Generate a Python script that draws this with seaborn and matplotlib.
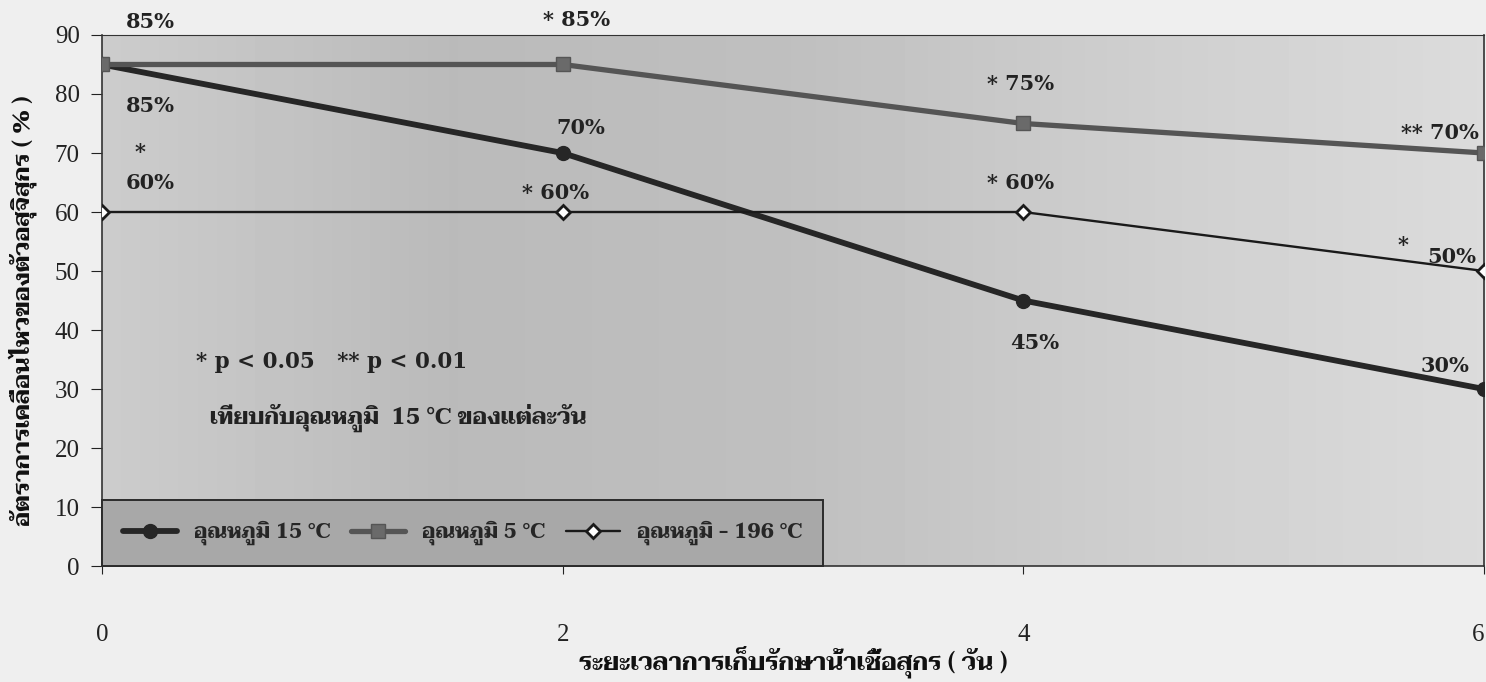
import numpy as np
import pandas as pd
import matplotlib
matplotlib.use("Agg")
import matplotlib.pyplot as plt
import seaborn as sns

# data
days = [0, 2, 4, 6]
temp15 = [85, 70, 45, 30]
temp5 = [85, 85, 75, 70]
temp196 = [60, 60, 60, 50]
series_names = ["อุณหภูมิ 15 °C", "อุณหภูมิ 5 °C", "อุณหภูมิ - 196 °C"]

# point labels: (day, y of label, text)
labels15 = [(0.21, 78.0, "85%"), (2.08, 74.2, "70%"), (4.05, 37.8, "45%"), (5.83, 33.9, "30%")]
labels5 = [(0.21, 92.2, "85%"), (2.06, 92.5, "* 85%"), (3.99, 81.7, "* 75%"), (5.81, 73.4, "** 70%")]
labels196 = [(0.165, 70.2, "*"), (0.21, 65.0, "60%"), (1.97, 63.2, "* 60%"),
             (3.99, 64.9, "* 60%"), (5.65, 54.4, "*"), (5.86, 52.4, "50%")]

df = pd.DataFrame({
    "day": days * 3,
    "rate": temp15 + temp5 + temp196,
    "series": [series_names[0]] * 4 + [series_names[1]] * 4 + [series_names[2]] * 4,
})

sns.set_style("ticks")
thai = ["Taviraj", "DejaVu Sans"]
serif = ["Liberation Serif", "DejaVu Serif"]
bold_serif = ["DejaVu Serif"]

fig = plt.figure(figsize=(14.86, 6.82), dpi=100, facecolor="#efefef")
ax = fig.add_axes([0.0686, 0.170, 0.9301, 0.7787])

# grey scanned background, darker in the middle
ramp = np.interp(np.linspace(0, 6, 200), [0, 1.5, 3, 4.5, 6], [0.80, 0.73, 0.75, 0.81, 0.86])
ax.imshow(ramp[np.newaxis, :], extent=(0, 6, 0, 90), aspect="auto", cmap="gray",
          vmin=0, vmax=1, zorder=0, interpolation="bicubic")

styles = {
    series_names[0]: dict(color="#262626", lw=4.2, marker="o", ms=10, mfc="#262626", mec="#262626"),
    series_names[1]: dict(color="#555555", lw=3.8, marker="s", ms=10, mfc="#6a6a6a", mec="#555555"),
    series_names[2]: dict(color="#1a1a1a", lw=1.7, marker="D", ms=7, mfc="white", mec="#1a1a1a", mew=2),
}
for name in series_names:
    st = styles[name]
    sns.lineplot(data=df[df["series"] == name], x="day", y="rate", ax=ax, label=name,
                 color=st["color"], linewidth=st["lw"], marker=st["marker"], markersize=st["ms"],
                 markerfacecolor=st["mfc"], markeredgecolor=st["mec"],
                 markeredgewidth=st.get("mew", 1), zorder=3)

for lst in (labels15, labels5, labels196):
    for x, y, t in lst:
        ax.text(x, y, t, ha="center", va="center", fontsize=15, fontweight="bold",
                family=bold_serif, color="#222222", clip_on=False, zorder=4)

ax.text(0.41, 34.6, "* p < 0.05   ** p < 0.01", fontsize=15.5, fontweight="bold",
        family=bold_serif, color="#222222", va="center")
ax.text(0.47, 25.1, "เทียบกับอุณหภูมิ  15 °C ของแต่ละวัน", fontsize=16.5, fontweight="bold",
        family=thai, color="#222222", va="center")

ax.set_xlim(0, 6)
ax.set_ylim(0, 90)
ax.set_xticks([0, 2, 4, 6])
ax.set_yticks(range(0, 91, 10))
ax.tick_params(axis="x", length=6, pad=36, labelsize=18, colors="#222222")
ax.tick_params(axis="y", length=8, pad=8, labelsize=18, colors="#222222")
for lab in ax.get_xticklabels() + ax.get_yticklabels():
    lab.set_family(serif)
# the last day label sits at the paper edge in the scan
ax.get_xticklabels()[-1].set_horizontalalignment("right")

ax.set_xlabel("ระยะเวลาการเก็บรักษาน้ำเชื้อสุกร ( วัน )", family=thai, fontsize=17.5,
              fontweight="bold", labelpad=-1, color="#111111")
ax.set_ylabel("อัตราการเคลื่อนไหวของตัวอสุจิสุกร ( % )", family=thai, fontsize=17,
              fontweight="bold", color="#111111")
ax.yaxis.set_label_coords(-0.047, 0.48)

for side in ["left", "bottom", "top", "right"]:
    ax.spines[side].set_color("#333333")
    ax.spines[side].set_linewidth(1.2)
ax.spines["top"].set_linewidth(0.8)

leg = ax.legend(loc="lower left", bbox_to_anchor=(0, 0), borderaxespad=0, ncol=3,
                frameon=True, fancybox=False, framealpha=1, facecolor="#a8a8a8",
                edgecolor="#2b2b2b", handlelength=2.6, columnspacing=1.0,
                borderpad=1.0, prop={"family": thai, "weight": "bold", "size": 15})
leg.get_frame().set_linewidth(1.4)

fig.savefig("out.png", dpi=100, facecolor=fig.get_facecolor())
